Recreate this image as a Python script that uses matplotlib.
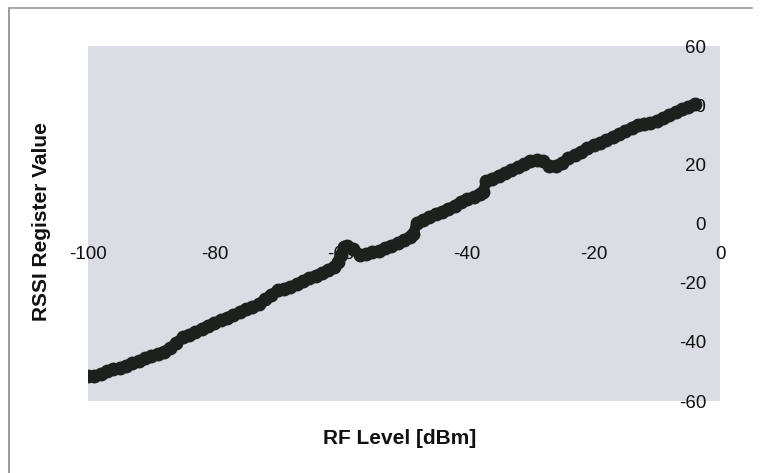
import matplotlib
matplotlib.use("Agg")
import matplotlib.pyplot as plt
from matplotlib.lines import Line2D

# ---- data ----
rf_level = [-100, -99, -98, -97, -96, -95, -94, -93, -92, -91, -90, -89, -88, -87,
            -86, -85, -84, -83, -82, -81, -80, -79, -78, -77, -76, -75, -74, -73,
            -72, -71, -70, -69, -68, -67, -66, -65, -64, -63, -62, -61, -60.5, -60,
            -59.5, -59, -58, -57, -56, -55, -54, -53, -52, -51, -50, -49, -48.5, -48,
            -47, -46, -45, -44, -43, -42, -41, -40, -39, -38, -37.5, -37, -36, -35,
            -34, -33, -32, -31, -30, -29, -28, -27, -26, -25, -24, -23, -22, -21,
            -20, -19, -18, -17, -16, -15, -14, -13, -12, -11, -10, -9, -8, -7, -6,
            -5, -4]
rssi = [-51.5, -51.5, -50.8, -50.0, -49.3, -48.8, -48.0, -47.2, -46.5, -45.6, -44.8,
        -44.2, -43.3, -42.2, -40.3, -38.4, -37.6, -36.8, -35.6, -34.5, -33.6, -32.7,
        -31.8, -30.8, -30.0, -29.0, -28.3, -27.2, -25.6, -24.0, -22.6, -22.2, -21.4,
        -20.5, -19.4, -18.4, -17.6, -16.6, -15.8, -14.6, -13.0, -10.5, -8.0, -7.6,
        -8.5, -10.6, -10.3, -9.8, -9.2, -8.4, -7.5, -6.6, -5.6, -4.5, -3.5, 0.2,
        1.2, 2.2, 3.2, 4.0, 5.0, 6.0, 7.4, 8.2, 9.0, 10.0, 10.6, 14.2, 15.2, 16.2,
        17.2, 18.1, 19.0, 20.0, 21.0, 21.3, 21.0, 19.4, 19.5, 20.6, 22.0, 23.2,
        24.3, 25.4, 26.4, 27.3, 28.2, 29.3, 30.2, 31.3, 32.4, 33.4, 33.8, 34.0,
        34.8, 35.5, 36.8, 37.8, 38.6, 39.5, 40.5]

x_ticks = [-100, -80, -60, -40, -20, 0]
y_ticks = [-60, -40, -20, 0, 20, 40, 60]
x_title = "RF Level [dBm]"
y_title = "RSSI Register Value"

# ---- figure ----
W, H = 761, 473
fig = plt.figure(figsize=(W / 100, H / 100), dpi=100)
fig.patch.set_facecolor("white")
plt.rcParams["font.family"] = ["Liberation Sans", "DejaVu Sans"]

left, right, top, bottom = 88, 720, 46, 401
ax = fig.add_axes([left / W, 1 - bottom / H, (right - left) / W, (bottom - top) / H])
ax.set_facecolor("#dbdde5")
ax.set_xlim(-100, 0)
ax.set_ylim(-60, 60)

ax.plot(rf_level, rssi, color="#1c211e", lw=7.5, solid_capstyle="round",
        solid_joinstyle="round", marker="o", ms=9, mec="#1c211e", mfc="#1c211e",
        zorder=3)

# axes cross at the origin (Excel style), axis lines invisible
ax.spines["left"].set_position(("data", 0))
ax.spines["bottom"].set_position(("data", 0))
for s in ax.spines.values():
    s.set_linewidth(0)
ax.set_xticks(x_ticks)
ax.set_yticks(y_ticks)
ax.set_xticklabels([str(v) for v in x_ticks])
ax.set_yticklabels([str(v) for v in y_ticks])
ax.tick_params(axis="x", length=0, pad=16, labelsize=13.5, colors="#111111")
ax.tick_params(axis="y", length=0, pad=10, labelsize=13.5, colors="#111111")
for lab in ax.get_xticklabels() + ax.get_yticklabels():
    lab.set_clip_on(False)

fig.text(400 / W, 1 - 438 / H, x_title, ha="center", va="center",
         fontsize=15, fontweight="bold", color="#111111")
fig.text(42 / W, 1 - 222 / H, y_title, ha="center", va="center", rotation=90,
         fontsize=15, fontweight="bold", color="#111111")

# outer scanned frame (left and top edges visible)
fx0, fx1, fy0 = 9 / W, 752 / W, 1 - 8 / H
fig.add_artist(Line2D([fx0, fx0], [0, fy0], transform=fig.transFigure,
                      color="#8a8a8a", lw=1.2))
fig.add_artist(Line2D([fx0, fx1], [fy0, fy0], transform=fig.transFigure,
                      color="#9a9a9a", lw=1.2))

fig.savefig("out.png", dpi=100)
